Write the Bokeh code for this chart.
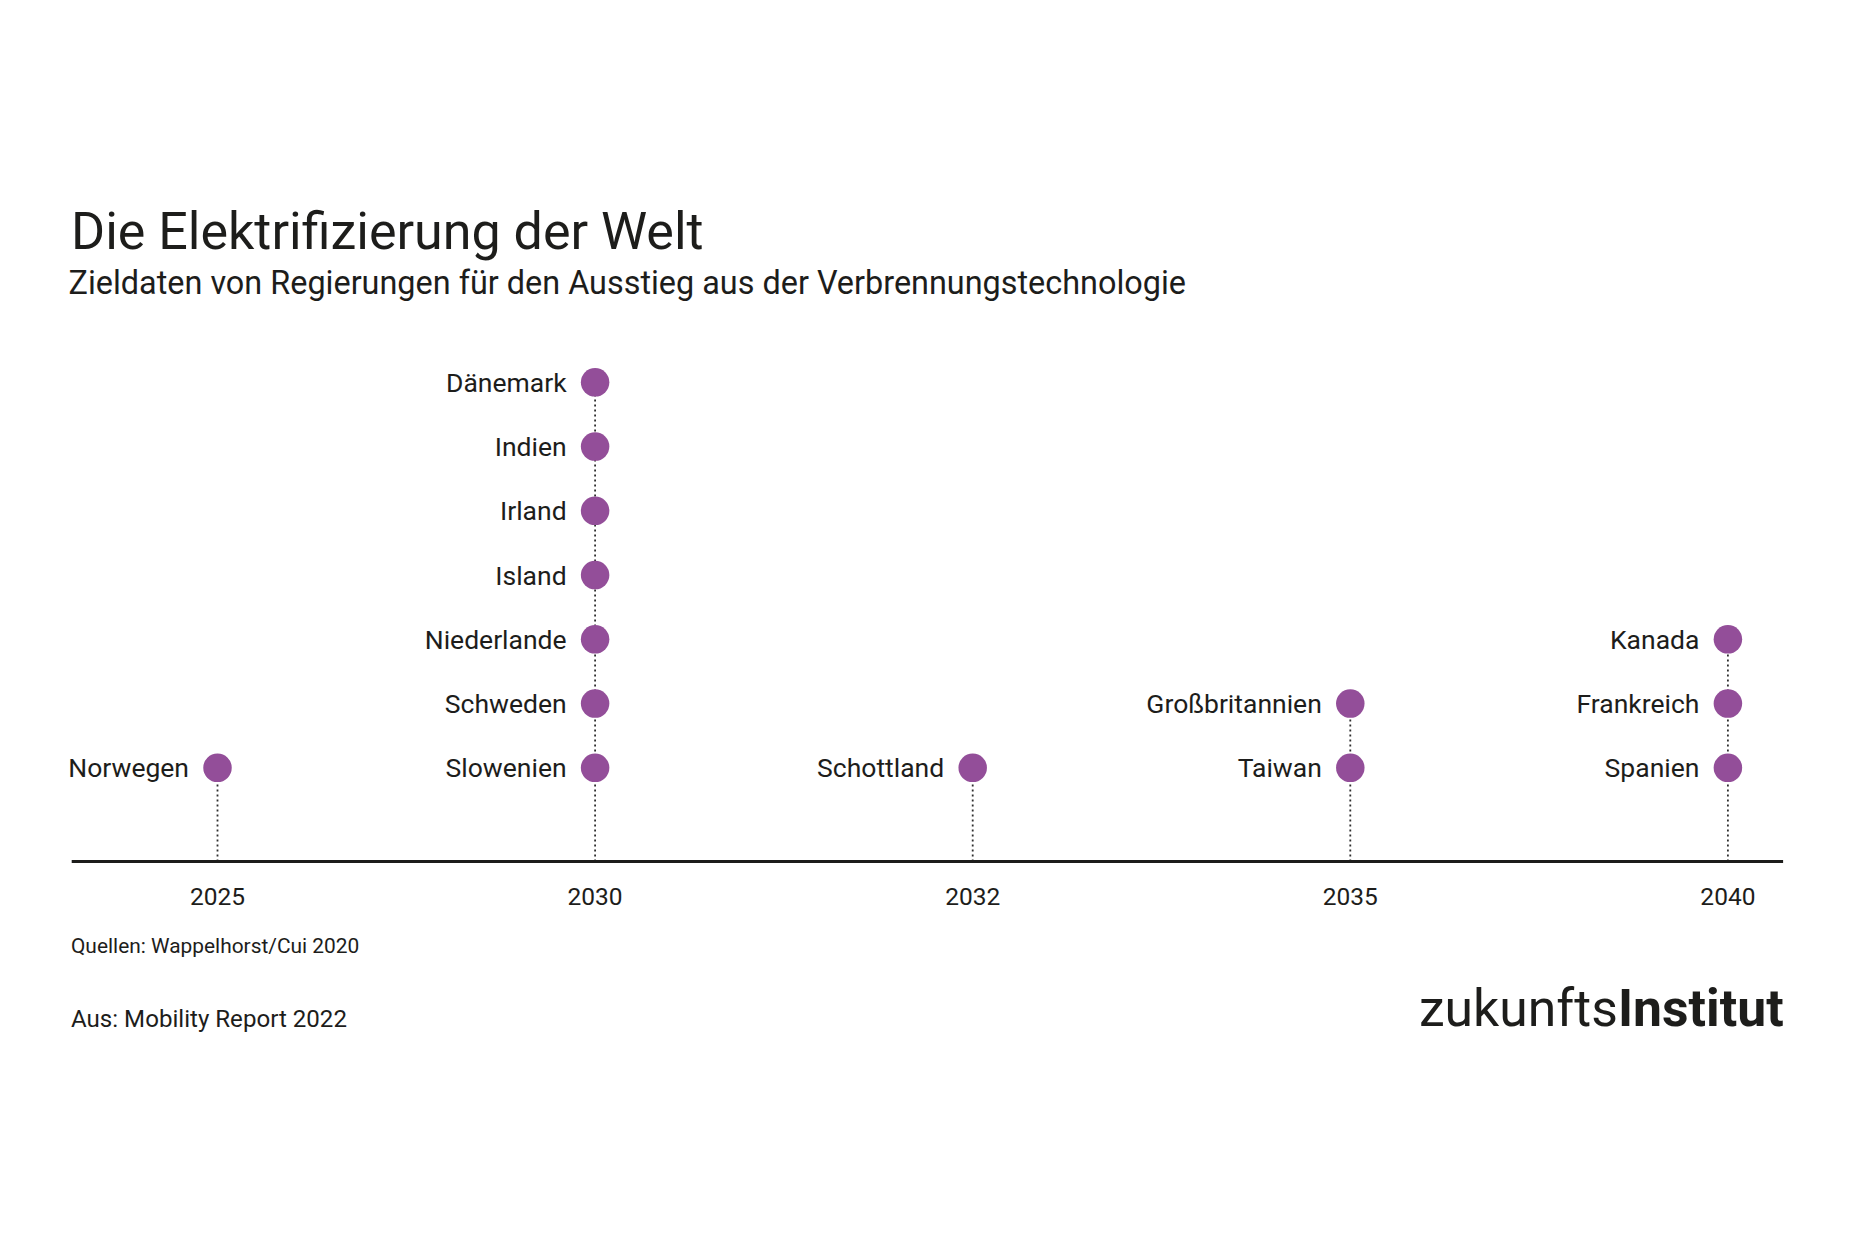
from bokeh.plotting import figure
from bokeh.models import ColumnDataSource, Range1d, Label
from bokeh.core.properties import value
from bokeh.embed import file_html
from bokeh.resources import INLINE

# ---- data ----
YEARS = ["2025", "2030", "2032", "2035", "2040"]
COUNTRIES = ["Norwegen", "Dänemark", "Indien", "Irland", "Island", "Niederlande",
             "Schweden", "Slowenien", "Schottland", "Großbritannien", "Taiwan",
             "Kanada", "Frankreich", "Spanien"]
TARGET = ["2025", "2030", "2030", "2030", "2030", "2030", "2030", "2030",
          "2032", "2035", "2035", "2040", "2040", "2040"]
STACK = [0, 6, 5, 4, 3, 2, 1, 0, 0, 1, 0, 2, 1, 0]

TITLE = "Die Elektrifizierung der Welt"
SUBTITLE = "Zieldaten von Regierungen für den Ausstieg aus der Verbrennungstechnologie"
SOURCE = "Quellen: Wappelhorst/Cui 2020"
FROM = "Aus: Mobility Report 2022"
LOGO_A = "zukunfts"
LOGO_B = "Institut"

PURPLE = "#934e99"
INK = "#1d1d1b"
FONT = "Roboto"

# ---- layout (pixel positions on the canvas) ----
W, H = 1844, 1224
X0_PX, X_STEP = 217.0, 377.6      # canvas x of first year, px per year slot
Y0_PX, Y_STEP = 767.3, 64.24      # canvas y of lowest stack row, px per row
X_START, X_END = -X0_PX / X_STEP, (W - X0_PX) / X_STEP
Y_START, Y_END = -(H - Y0_PX) / Y_STEP, Y0_PX / Y_STEP

def dx(px):
    return X_START + px / W * (X_END - X_START)

def dy(py):
    return Y_END - py / H * (Y_END - Y_START)

AXIS_Y = dy(861)
LABEL_Y = dy(895.5)

p = figure(width=W, height=H, output_backend="svg", toolbar_location=None,
           x_range=Range1d(X_START, X_END), y_range=Range1d(Y_START, Y_END),
           min_border=0, x_axis_location=None, y_axis_location=None)
p.outline_line_color = None
p.grid.visible = False
p.background_fill_color = "white"
p.border_fill_color = "white"

xi = [YEARS.index(t) for t in TARGET]
src = ColumnDataSource(dict(x=xi, y=STACK, name=COUNTRIES))

# stems
tops = [max(s for t, s in zip(TARGET, STACK) if t == yr) for yr in YEARS]
stem = ColumnDataSource(dict(x=list(range(len(YEARS))), top=tops,
                             bottom=[AXIS_Y] * len(YEARS)))
p.segment(x0="x", y0="bottom", x1="x", y1="top", source=stem,
          line_color="#2e2e2e", line_width=1.8, line_dash="2 3")

# baseline axis
p.segment(x0=[dx(71.2)], y0=[AXIS_Y], x1=[dx(1782.6)], y1=[AXIS_Y],
          line_color=INK, line_width=3.2)

# year labels
ysrc = ColumnDataSource(dict(x=list(range(len(YEARS))), y=[LABEL_Y] * len(YEARS),
                             t=YEARS))
p.text("x", "y", text="t", source=ysrc, text_align="center",
       text_baseline="middle", text_font=value(FONT), text_font_size="24.5px",
       text_color=INK)

p.scatter("x", "y", source=src, size=28.5, fill_color=PURPLE, line_color=None)
p.text("x", "y", text="name", source=src, x_offset=-28.5, text_align="right",
       text_baseline="middle", text_font=value(FONT), text_font_size="26.5px",
       text_color=INK)

def lab(text, px, py, size, align="left", style="normal"):
    p.add_layout(Label(x=dx(px), y=dy(py), text=text, text_font=FONT,
                       text_font_size=size, text_color=INK, text_align=align,
                       text_baseline="alphabetic", text_font_style=style))

lab(TITLE, 70.5, 231, "52px")
lab(SUBTITLE, 68, 282, "32.4px")
lab(SOURCE, 70.5, 945, "20.9px")
lab(FROM, 70.5, 1018.7, "24.1px")
lab(LOGO_A, 1617.4, 1008, "51.7px", align="right")
lab(LOGO_B, 1617.4, 1008, "51.7px", align="left", style="bold")

open("out.html", "w").write(file_html(p, INLINE))
